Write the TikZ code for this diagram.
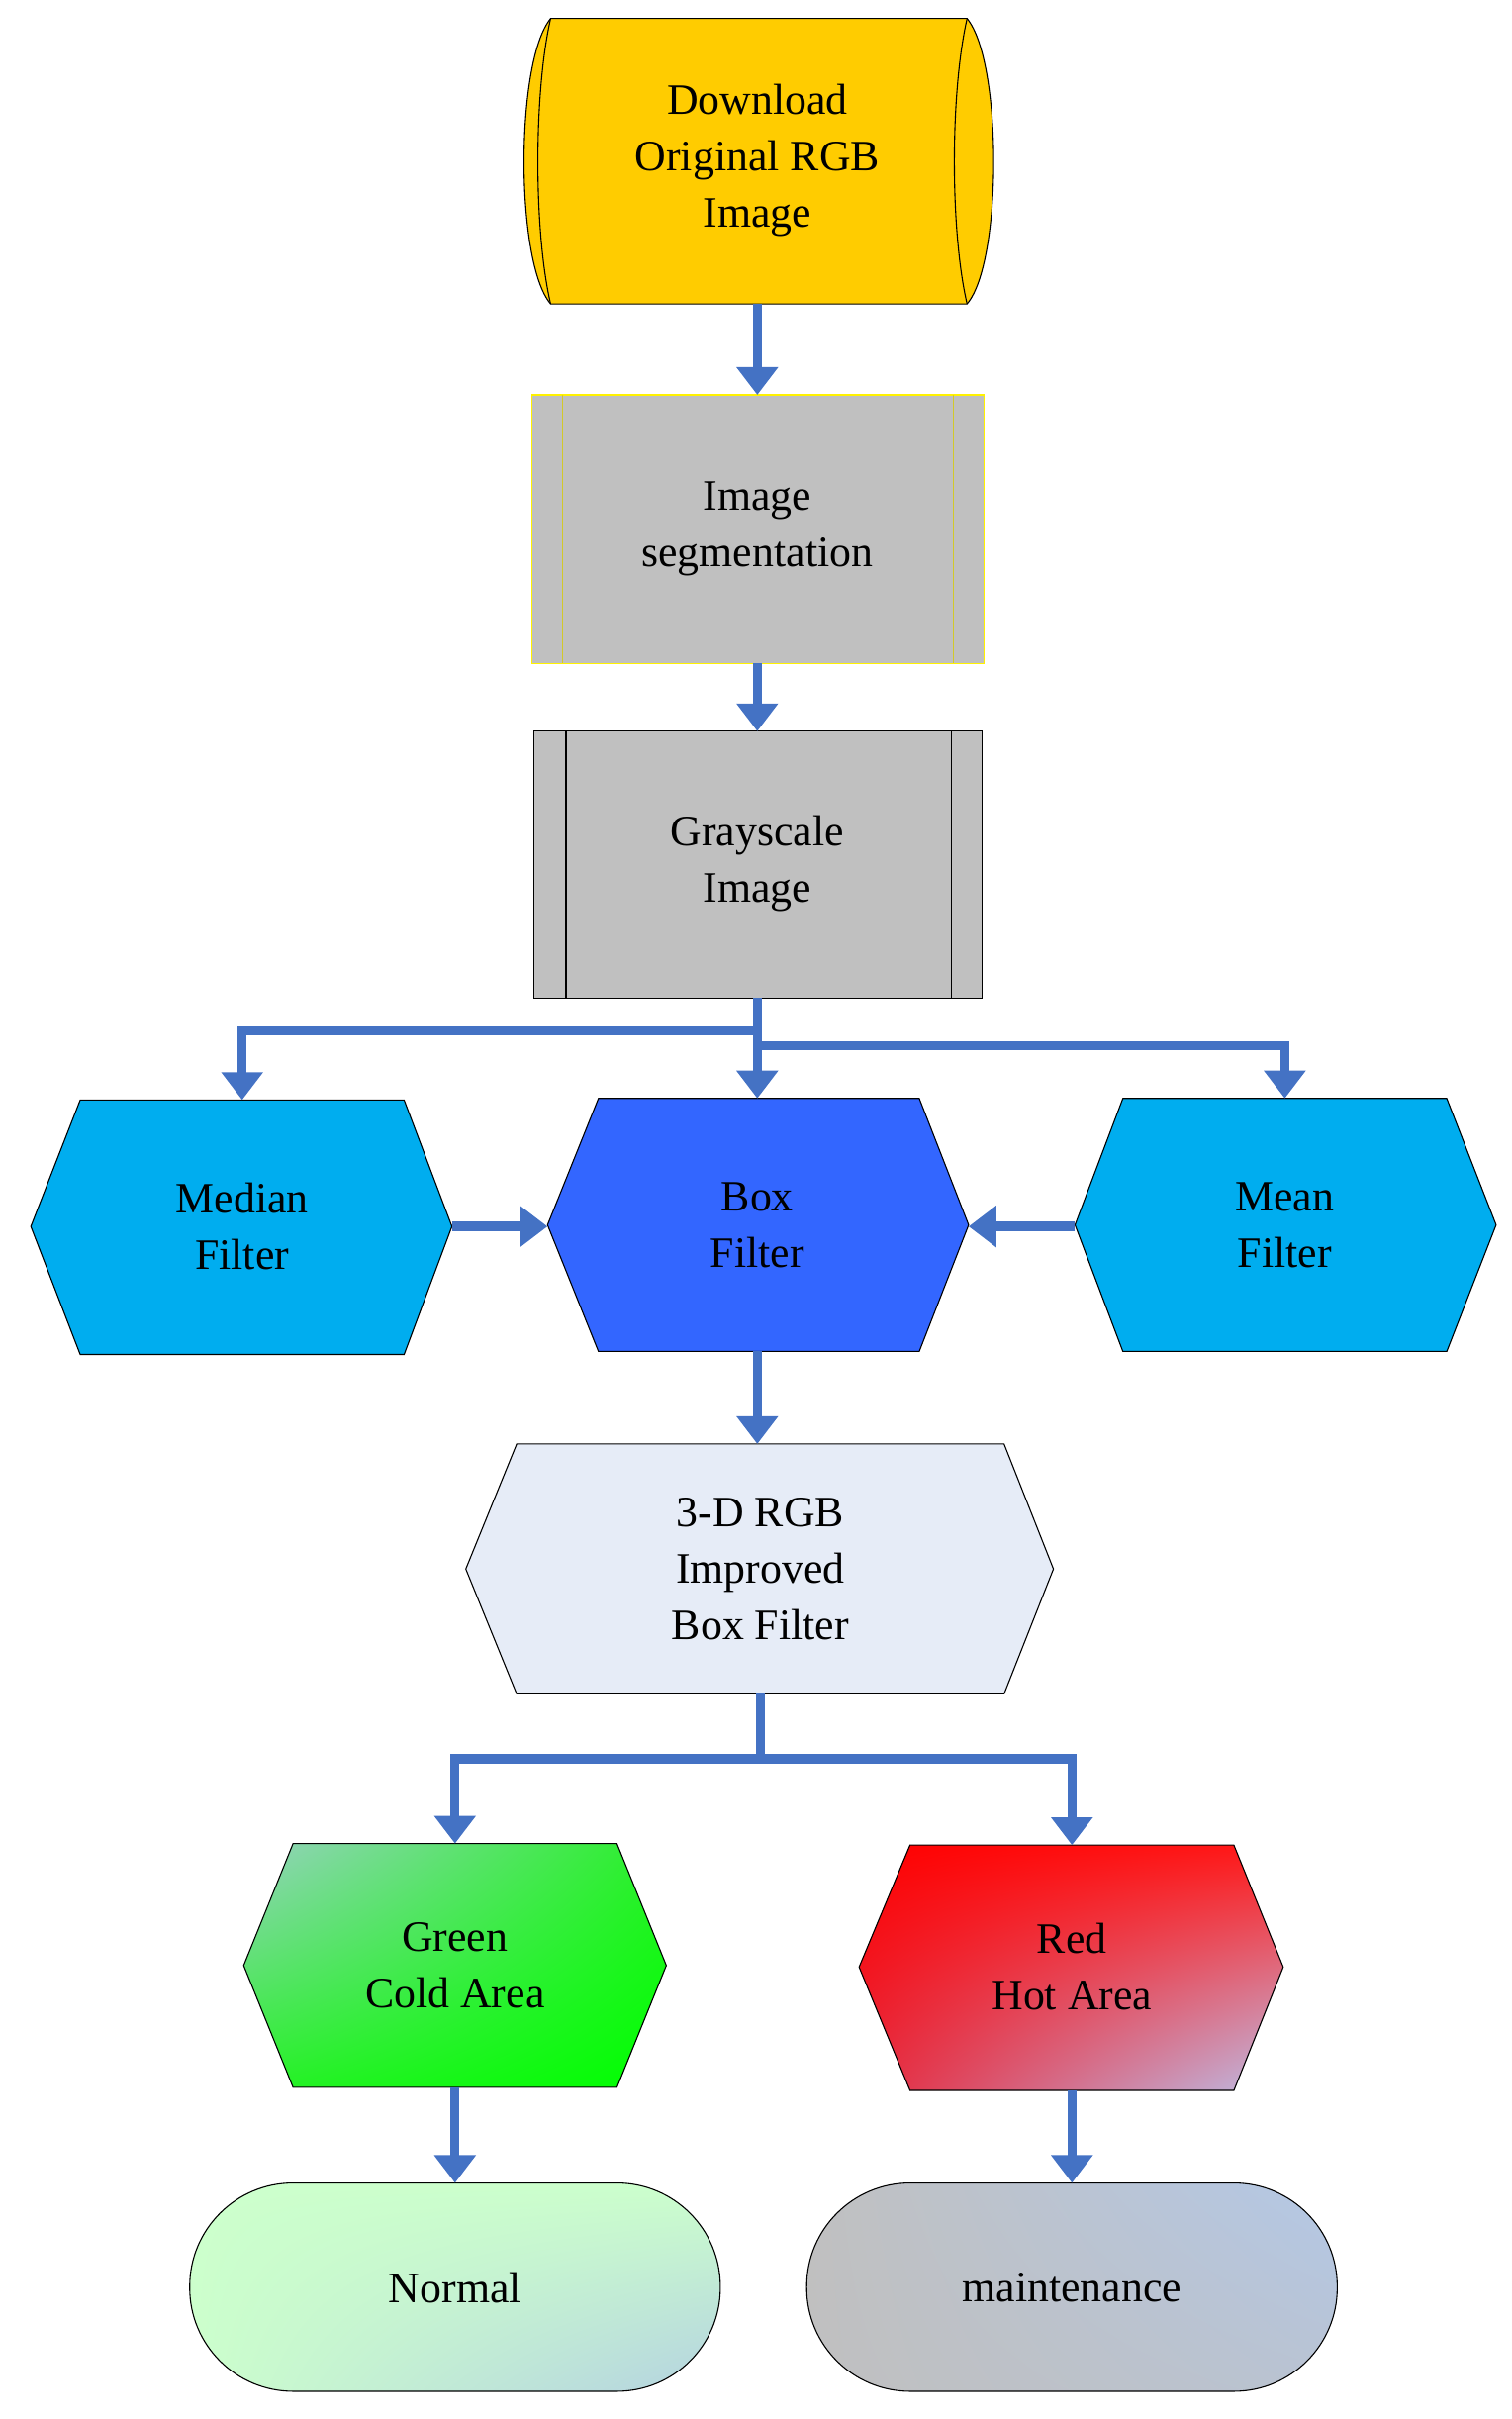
\documentclass[tikz,border=0pt]{standalone}
\usepackage{fontspec}
\setmainfont{Liberation Serif}
\usetikzlibrary{arrows.meta,shadings}
\definecolor{ab}{HTML}{4472C4}
\begin{document}
\begin{tikzpicture}[x=0.05cm,y=-0.05cm,
 arr/.style={draw=ab,line width=0.3cm,-{Triangle[length=0.9cm,width=1.3cm]}},
 ln/.style={draw=ab,line width=0.3cm},
 bx/.style={draw=black,line width=1pt},
 txt/.style={font=\fontsize{40}{52}\selectfont,align=center}]
\useasboundingbox (0,0) rectangle (980,1568);
% top cylinder
\fill[fill={rgb,255:red,255;green,204;blue,0}] (357,12) -- (627,12) .. controls (650,40) and (650,170) .. (627,197) -- (357,197) .. controls (334,170) and (334,40) .. (357,12) -- cycle;
\draw[bx] (357,12) -- (627,12) .. controls (650,40) and (650,170) .. (627,197) -- (357,197) .. controls (334,170) and (334,40) .. (357,12) -- cycle;
\draw[bx] (357,12) .. controls (346,60) and (346,150) .. (357,197);
\draw[bx] (627,12) .. controls (616,60) and (616,150) .. (627,197);
\node[txt] (dl) at (491,104) {Download\\Original RGB\\Image};
% segmentation
\draw[fill={rgb,255:red,192;green,192;blue,192},draw=yellow,line width=1pt] (345,256) rectangle (638,430);
\draw[draw=yellow!80!black,line width=1pt] (365,256)--(365,430) (618,256)--(618,430);
\node[txt] (seg) at (491,343) {Image\\segmentation};
% grayscale
\draw[bx,fill={rgb,255:red,192;green,192;blue,192}] (346,474) rectangle (637,647);
\draw[bx] (367,474)--(367,647) (617,474)--(617,647);
\node[txt] (gs) at (491,560) {Grayscale\\Image};
% hexagons
\draw[bx,fill=cyan] (20,795)--(52,713)--(262,713)--(293,795)--(262,878)--(52,878)--cycle;
\node[txt] (med) at (157,795) {Median\\Filter};
\draw[bx,fill={rgb,255:red,51;green,102;blue,255}] (355,794)--(388,712)--(596,712)--(628,794)--(596,876)--(388,876)--cycle;
\node[txt] (box) at (491,794) {Box\\Filter};
\draw[bx,fill=cyan] (697,794)--(728,712)--(938,712)--(970,794)--(938,876)--(728,876)--cycle;
\node[txt] (mean) at (833,794) {Mean\\Filter};
\draw[bx,fill={rgb,255:red,230;green,236;blue,247}] (302,1017)--(335,936)--(651,936)--(683,1017)--(651,1098)--(335,1098)--cycle;
\node[txt] (rgb) at (493,1017) {3-D RGB\\Improved\\Box Filter};
\shade[upper left={rgb,255:red,150;green,210;blue,190},upper right={rgb,255:red,40;green,240;blue,40},lower left={rgb,255:red,40;green,240;blue,40},lower right={rgb,255:red,0;green,255;blue,0}] (158,1274)--(190,1195)--(400,1195)--(432,1274)--(400,1353)--(190,1353)--cycle;
\draw[bx] (158,1274)--(190,1195)--(400,1195)--(432,1274)--(400,1353)--(190,1353)--cycle;
\node[txt] (gr) at (295,1274) {Green\\Cold Area};
\shade[upper left=red,upper right=red!90!white,lower left={rgb,255:red,230;green,40;blue,60},lower right={rgb,255:red,190;green,190;blue,230}] (557,1275)--(590,1196)--(800,1196)--(832,1275)--(800,1355)--(590,1355)--cycle;
\draw[bx] (557,1275)--(590,1196)--(800,1196)--(832,1275)--(800,1355)--(590,1355)--cycle;
\node[txt] (red) at (695,1275) {Red\\Hot Area};
% terminals
\shade[upper left={rgb,255:red,204;green,255;blue,204},upper right={rgb,255:red,204;green,255;blue,204},lower left={rgb,255:red,204;green,255;blue,204},lower right={rgb,255:red,180;green,210;blue,225},rounded corners=3.35cm] (123,1415) rectangle (467,1550);
\draw[bx,rounded corners=3.35cm] (123,1415) rectangle (467,1550);
\node[txt] (nor) at (295,1483) {Normal};
\shade[upper left={rgb,255:red,192;green,192;blue,192},lower left={rgb,255:red,192;green,192;blue,192},lower right={rgb,255:red,185;green,195;blue,210},upper right={rgb,255:red,180;green,200;blue,230},rounded corners=3.35cm] (523,1415) rectangle (867,1550);
\draw[bx,rounded corners=3.35cm] (523,1415) rectangle (867,1550);
\node[txt] (mt) at (695,1483) {maintenance};
% connectors
\coordinate (a1) at (491,197); \coordinate (a2) at (491,256);
\draw[arr] (a1)--(a2);
\coordinate (b1) at (491,430); \coordinate (b2) at (491,474);
\draw[arr] (b1)--(b2);
\coordinate (c0) at (491,647); \coordinate (c1) at (491,668);
\coordinate (cm) at (157,713); \coordinate (cb) at (491,712); \coordinate (cr) at (833,712);
\draw[arr] (c0)--(cb);
\draw[arr] (c1)-|(cm);
\draw[arr] (491,678)-|(cr);
\draw[arr] (293,795)--(355,795);
\draw[arr] (697,795)--(628,795);
\draw[arr] (491,876)--(491,936);
\coordinate (d0) at (493,1098); \coordinate (d1) at (493,1140);
\draw[ln] (d0)--(d1);
\draw[arr] (d1)-|(295,1195);
\draw[arr] (d1)-|(695,1196);
\draw[arr] (295,1353)--(295,1415);
\draw[arr] (695,1355)--(695,1415);
\end{tikzpicture}
\end{document}
